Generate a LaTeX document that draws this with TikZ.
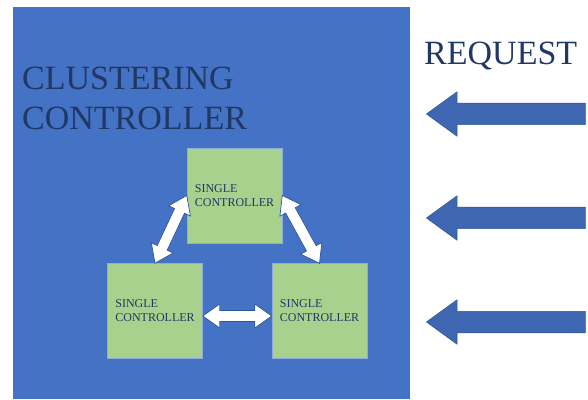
\documentclass[tikz,border=0pt]{standalone}
\usepackage{fontspec}
\setmainfont{Liberation Serif}
\usetikzlibrary{positioning,calc,shapes.arrows}

\definecolor{clusterblue}{HTML}{4472C4}
\definecolor{ctrlgreen}{HTML}{A9D18E}
\definecolor{navy}{HTML}{1F3864}
\definecolor{arrowblue}{HTML}{3F67B1}
\definecolor{edgeblue}{HTML}{2F5597}

% white block arrow with a head at both ends
\newcommand\linkarrow[2]{%
  \draw[link] (#1)
    -- ($($(#1)!17pt!(#2)$)!12pt!90:(#2)$)
    -- ($($(#1)!17pt!(#2)$)!5.5pt!90:(#2)$)
    -- ($($(#2)!17pt!(#1)$)!5.5pt!-90:(#1)$)
    -- ($($(#2)!17pt!(#1)$)!12pt!-90:(#1)$)
    -- (#2)
    -- ($($(#2)!17pt!(#1)$)!12pt!90:(#1)$)
    -- ($($(#2)!17pt!(#1)$)!5.5pt!90:(#1)$)
    -- ($($(#1)!17pt!(#2)$)!5.5pt!-90:(#2)$)
    -- ($($(#1)!17pt!(#2)$)!12pt!-90:(#2)$)
    -- cycle;}

\begin{document}
\begin{tikzpicture}[x=1pt,y=1pt,
  title/.style={font=\fontsize{34}{40}\selectfont,text=navy,align=left,inner sep=0pt},
  ctrl/.style={draw=clusterblue!60!white,line width=0.5pt,fill=ctrlgreen,minimum width=95pt,minimum height=95pt,
    inner sep=0pt,align=left,font=\fontsize{12}{14}\selectfont,text=navy},
  request/.style={single arrow,shape border rotate=180,fill=arrowblue,draw=edgeblue,line width=0.5pt,
    inner xsep=0pt,inner ysep=10.5pt,minimum height=159pt,single arrow head extend=11.5pt,single arrow tip angle=72},
  link/.style={fill=white,draw=edgeblue,line width=0.7pt,line join=miter}]
\useasboundingbox (0,0) rectangle (588,399);
\fill[clusterblue] (13,0) rectangle (410,392);

\node[title,anchor=base west] (cluster) at (22,269) {CLUSTERING\\CONTROLLER};
\node[title,anchor=base west] (request) at (424,334) {REQUEST};

\node[ctrl] (ctrltop)   at (234.5,203.5)    {SINGLE\\CONTROLLER};
\node[ctrl] (ctrlleft)  at (155,88)         {SINGLE\\CONTROLLER};
\node[ctrl] (ctrlright) [right=69pt of ctrlleft] {SINGLE\\CONTROLLER};

\linkarrow{ctrlleft.north}{ctrltop.west}
\linkarrow{ctrltop.east}{ctrlright.north}
\linkarrow{[yshift=-5pt]ctrlleft.east}{[yshift=-5pt]ctrlright.west}

\foreach \y [count=\i] in {285,181,77}
  \node[request,anchor=tip] (req\i) at (426,\y) {};
\end{tikzpicture}
\end{document}
